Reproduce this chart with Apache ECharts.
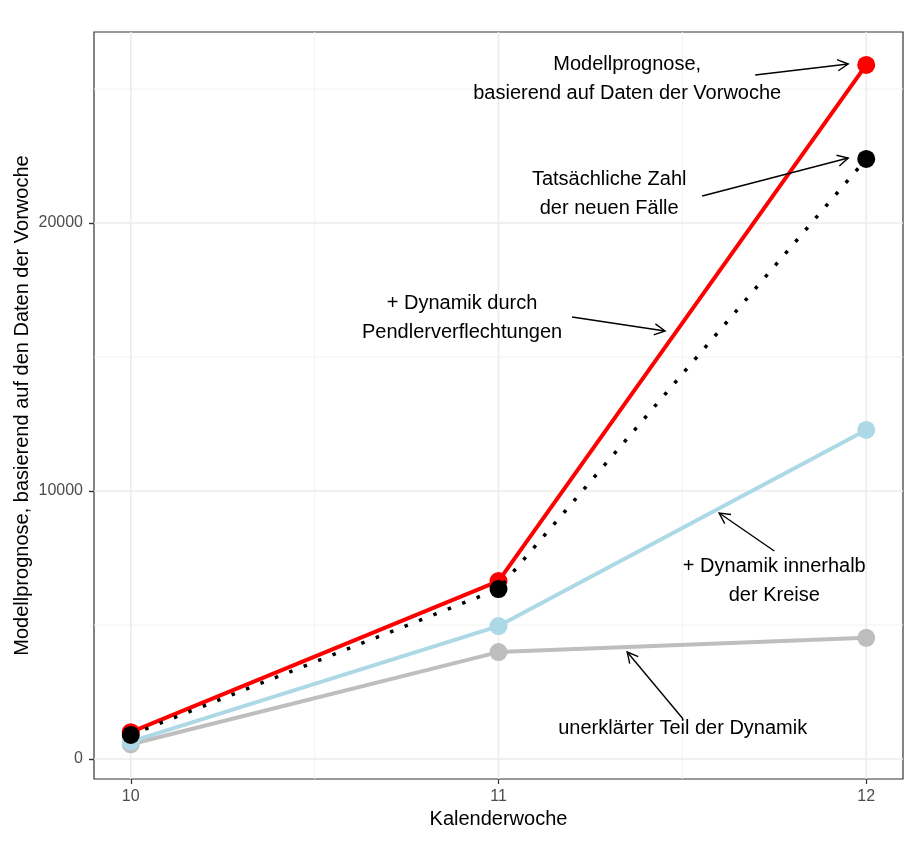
<!DOCTYPE html>
<html>
<head>
<meta charset="utf-8">
<script src="https://cdn.jsdelivr.net/npm/echarts@6/dist/echarts.min.js"></script>
<style>
  html, body { margin: 0; padding: 0; background: #fff; }
  #chart { width: 920px; height: 843px; }
</style>
</head>
<body>
<div id="chart"></div>
<script>
const weeks = [10, 11, 12];
const prognose = [1000, 6640, 25900];
const tatsaechlich = [900, 6340, 22390];
const kreise = [650, 4960, 12280];
const unerklaert = [550, 3990, 4520];

const xTicks = [10, 11, 12];
const xMinor = [10.5, 11.5];
const yTicks = [0, 10000, 20000];
const yMinor = [5000, 15000, 25000];

// text labels and arrows, in data coordinates
const notes = [
  { text: "Modellprognose,\nbasierend auf Daten der Vorwoche", at: [11.350, 25392], from: [11.698, 25522], to: [11.951, 25933] },
  { text: "Tatsächliche Zahl\nder neuen Fälle", at: [11.301, 21082], from: [11.554, 21007], to: [11.951, 22425] },
  { text: "+ Dynamik durch\nPendlerverflechtungen", at: [10.901, 16474], from: [11.200, 16493], to: [11.453, 15970] },
  { text: "+ Dynamik innerhalb\nder Kreise", at: [11.750, 6642], from: [11.750, 7761], to: [11.600, 9179] },
  { text: "unerklärter Teil der Dynamik", at: [11.501, 1157], from: [11.502, 1493], to: [11.350, 3993] }
];

const font = '"Liberation Sans", Arial, sans-serif';
const yMin = -746, yMax = 27127, xMin = 9.9, xMax = 12.1;
const pts = (vals) => weeks.map((w, i) => [w, vals[i]]);

function lineSeries(name, vals, color, z, extra) {
  return Object.assign({
    name: name,
    type: "line",
    data: pts(vals),
    z: z,
    symbol: "circle",
    symbolSize: 18,
    itemStyle: { color: color },
    lineStyle: { color: color, width: 4 },
    silent: true,
    animation: false
  }, extra || {});
}

const chart = echarts.init(document.getElementById("chart"));
chart.setOption({
  animation: false,
  textStyle: { fontFamily: font },
  grid: {
    left: 94, right: 17, top: 32, bottom: 64,
    show: true, borderColor: "#333", borderWidth: 1.2, backgroundColor: "transparent"
  },
  xAxis: {
    type: "value",
    min: xMin,
    max: xMax,
    name: "Kalenderwoche",
    nameLocation: "middle",
    nameGap: 30,
    nameTextStyle: { fontSize: 20, color: "#000", fontFamily: font },
    axisLine: { show: false, onZero: false },
    axisTick: { show: true, length: 5, customValues: xTicks, lineStyle: { color: "#333", width: 1.2 } },
    axisLabel: { customValues: xTicks, fontSize: 16, color: "#4d4d4d", margin: 10, fontFamily: font },
    splitLine: { show: false }
  },
  yAxis: {
    type: "value",
    min: yMin,
    max: yMax,
    name: "Modellprognose, basierend auf den Daten der Vorwoche",
    nameLocation: "middle",
    nameGap: 62,
    nameMoveOverlap: false,
    nameTextStyle: { fontSize: 20, color: "#000", fontFamily: font },
    axisLine: { show: false, onZero: false },
    axisTick: { show: true, length: 5, customValues: yTicks, lineStyle: { color: "#333", width: 1.4 } },
    axisLabel: {
      customValues: yTicks, fontSize: 16, color: "#4d4d4d", margin: 11, fontFamily: font,
      formatter: (v) => String(v)
    },
    splitLine: { show: false }
  },
  series: [
    lineSeries("unerklärt", unerklaert, "#bebebe", 2),
    lineSeries("Kreise", kreise, "#add8e6", 3),
    lineSeries("Modellprognose", prognose, "#ff0000", 4),
    lineSeries("Tatsächlich", tatsaechlich, "#000000", 5, {
      lineStyle: { color: "#000", width: 3.5, type: [3.5, 12], cap: "butt" }
    })
  ]
});

function arrowPoints(a, b) {
  const len = 12, ang = Math.PI / 6.5;
  const t = Math.atan2(b[1] - a[1], b[0] - a[0]);
  return [
    [b[0] - len * Math.cos(t - ang), b[1] - len * Math.sin(t - ang)],
    b,
    [b[0] - len * Math.cos(t + ang), b[1] - len * Math.sin(t + ang)]
  ];
}

const px = (p) => chart.convertToPixel({ gridIndex: 0 }, p);
const graphics = [];

// panel grid (major + minor), below the series
function vLine(v, color, w) {
  const a = px([v, yMin]), b = px([v, yMax]);
  graphics.push({ type: "line", z: 1, silent: true, shape: { x1: a[0], y1: a[1], x2: b[0], y2: b[1] }, style: { stroke: color, lineWidth: w } });
}
function hLine(v, color, w) {
  const a = px([xMin, v]), b = px([xMax, v]);
  graphics.push({ type: "line", z: 1, silent: true, shape: { x1: a[0], y1: a[1], x2: b[0], y2: b[1] }, style: { stroke: color, lineWidth: w } });
}
xMinor.forEach((v) => vLine(v, "#f2f2f2", 1));
yMinor.forEach((v) => hLine(v, "#f2f2f2", 1));
xTicks.forEach((v) => vLine(v, "#ebebeb", 1.4));
yTicks.forEach((v) => hLine(v, "#ebebeb", 1.4));

notes.forEach((n) => {
  const c = px(n.at), a = px(n.from), b = px(n.to);
  graphics.push({
    type: "text",
    x: c[0], y: c[1], z: 10,
    style: {
      text: n.text, font: "20px " + font, fill: "#000",
      align: "center", verticalAlign: "middle", lineHeight: 29
    }
  });
  graphics.push({
    type: "line", z: 10,
    shape: { x1: a[0], y1: a[1], x2: b[0], y2: b[1] },
    style: { stroke: "#000", lineWidth: 1.4 }
  });
  graphics.push({
    type: "polyline", z: 10,
    shape: { points: arrowPoints(a, b) },
    style: { stroke: "#000", lineWidth: 1.4, fill: null }
  });
});
chart.setOption({ graphic: graphics });
</script>
</body>
</html>
